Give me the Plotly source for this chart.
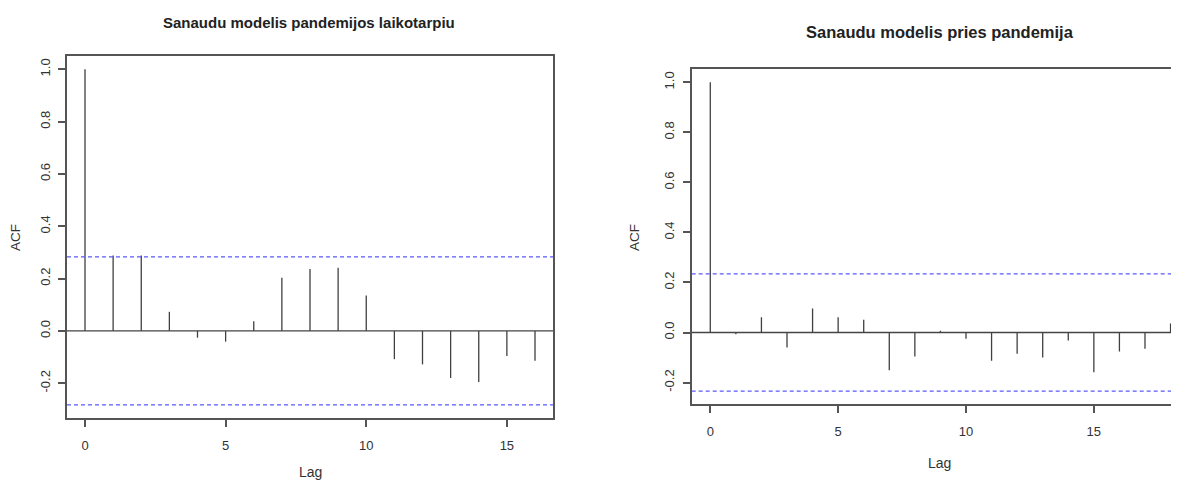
import plotly.graph_objects as go

# ---- data ----
lags_left = list(range(0, 17))
acf_left = [1.0, 0.288, 0.288, 0.073, -0.026, -0.041, 0.037, 0.203, 0.237, 0.241,
            0.135, -0.108, -0.128, -0.180, -0.195, -0.096, -0.114]
clim_left = 0.283

lags_right = list(range(0, 19))
acf_right = [1.0, -0.007, 0.061, -0.060, 0.096, 0.061, 0.051, -0.151, -0.096, 0.007,
             -0.025, -0.113, -0.085, -0.100, -0.032, -0.159, -0.076, -0.065, 0.036]
clim_right = 0.234

title_left = "Sanaudu modelis pandemijos laikotarpiu"
title_right = "Sanaudu modelis pries pandemija"
x_ticks = [0, 5, 10, 15]
y_ticks = [-0.2, 0.0, 0.2, 0.4, 0.6, 0.8, 1.0]
y_ticklabels = ["-0.2", "0.0", "0.2", "0.4", "0.6", "0.8", "1.0"]

# the page body has an 8px margin; size the figure to fill the rest of the window
OFF = 8
W, H = 1179 - OFF, 481 - OFF
FONT = "Liberation Sans, Arial, sans-serif"
AX = "#555555"
TXT = "#333333"


def px(x):
    return (x - OFF) / W


def py(y):
    return 1 - (y - OFF) / H


def stems(lags, vals):
    xs, ys = [], []
    for l, v in zip(lags, vals):
        xs += [l, l, None]
        ys += [0, v, None]
    return xs, ys


fig = go.Figure()
xl, yl = stems(lags_left, acf_left)
fig.add_trace(go.Scatter(x=xl, y=yl, mode="lines", line=dict(color="#404040", width=1.3),
                         xaxis="x", yaxis="y", showlegend=False, hoverinfo="skip"))
xr, yr = stems(lags_right, acf_right)
fig.add_trace(go.Scatter(x=xr, y=yr, mode="lines", line=dict(color="#404040", width=1.3),
                         xaxis="x2", yaxis="y2", showlegend=False, hoverinfo="skip"))

L_x = [px(67), px(553)]
L_y = [py(418), py(56)]
R_x = [px(691.7), 1.0]
R_y = [py(404.3), py(69.3)]

common_x = dict(showline=True, linecolor=AX, linewidth=1.5, ticks="outside", ticklen=7,
                tickcolor=AX, tickwidth=1.5, showgrid=False, zeroline=False,
                tickvals=x_ticks, tickfont=dict(family=FONT, size=13, color=TXT))
common_y = dict(showline=True, linecolor=AX, linewidth=1.5, ticks="outside", ticklen=7,
                tickcolor=AX, tickwidth=1.5, showgrid=False, zeroline=False,
                tickvals=y_ticks, ticktext=y_ticklabels, tickangle=-90,
                tickfont=dict(family=FONT, size=13, color=TXT))

fig.update_layout(
    width=W, height=H, margin=dict(l=0, r=0, t=0, b=0),
    paper_bgcolor="white", plot_bgcolor="white",
    xaxis=dict(domain=L_x, range=[-0.64, 16.64], mirror=True, anchor="y",
               ticklabelstandoff=8, **common_x),
    yaxis=dict(domain=L_y, range=[-0.333, 1.051], mirror=True, anchor="x",
               ticklabelstandoff=3, **common_y),
    xaxis2=dict(domain=R_x, range=[-0.727, 18.33], mirror=True, anchor="y2",
                ticklabelstandoff=7, **common_x),
    yaxis2=dict(domain=R_y, range=[-0.287, 1.052], mirror=False, anchor="x2",
                ticklabelstandoff=4, **common_y),
    showlegend=False,
)

shapes = []
for xref, yref, c in [("x domain", "y", clim_left), ("x2 domain", "y2", clim_right)]:
    shapes.append(dict(type="line", xref=xref, yref=yref, x0=0, x1=1, y0=0, y1=0,
                       line=dict(color="#444444", width=1.3)))
    for s in (1, -1):
        shapes.append(dict(type="line", xref=xref, yref=yref, x0=0, x1=1, y0=s * c, y1=s * c,
                           line=dict(color="#5a5aff", width=1.3, dash="4px,3px")))
fig.update_layout(shapes=shapes)

ann = [
    dict(text="<b>" + title_left + "</b>", x=px(309), y=py(22), xref="paper", yref="paper",
         showarrow=False, font=dict(family=FONT, size=15, color="#222222"),
         xanchor="center", yanchor="middle"),
    dict(text="<b>" + title_right + "</b>", x=px(940), y=py(32), xref="paper", yref="paper",
         showarrow=False, font=dict(family=FONT, size=16.5, color="#222222"),
         xanchor="center", yanchor="middle"),
    dict(text="Lag", x=px(310), y=py(472), xref="paper", yref="paper", showarrow=False,
         font=dict(family=FONT, size=14, color=TXT), xanchor="center", yanchor="middle"),
    dict(text="Lag", x=px(939), y=py(463), xref="paper", yref="paper", showarrow=False,
         font=dict(family=FONT, size=14, color=TXT), xanchor="center", yanchor="middle"),
    dict(text="ACF", x=px(16), y=py(238), xref="paper", yref="paper", showarrow=False,
         textangle=-90, font=dict(family=FONT, size=13.5, color=TXT),
         xanchor="center", yanchor="middle"),
    dict(text="ACF", x=px(635), y=py(238), xref="paper", yref="paper", showarrow=False,
         textangle=-90, font=dict(family=FONT, size=13.5, color=TXT),
         xanchor="center", yanchor="middle"),
]
fig.update_layout(annotations=ann)

fig.write_html("out.html")
